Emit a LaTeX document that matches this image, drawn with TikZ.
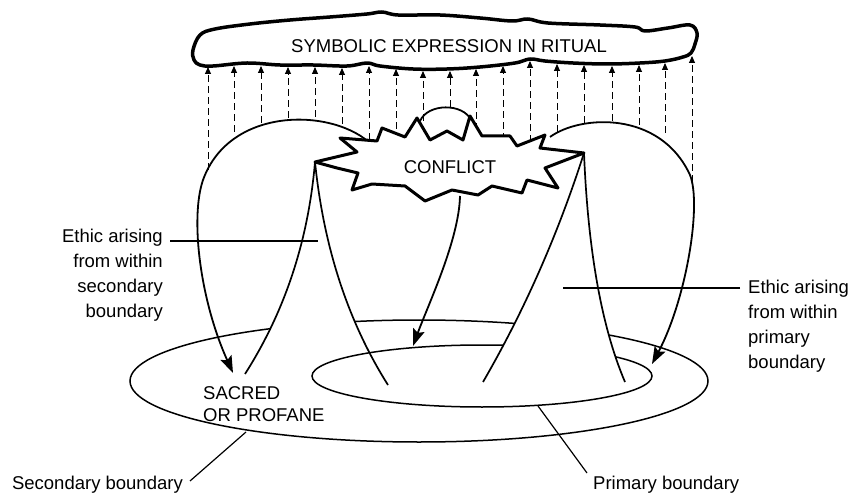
\documentclass[tikz,border=0pt]{standalone}
\usepackage{fontspec}
\setmainfont{Liberation Sans}
\usetikzlibrary{arrows.meta}
\begin{document}
\begin{tikzpicture}[x=1pt,y=-1pt,
  lbl/.style={font=\fontsize{18.5}{25}\selectfont, inner sep=0pt, text=black},
  ellipseline/.style={line width=1.5pt},
  coneline/.style={line width=1.7pt},
  bigarrow/.style={line width=1.8pt, -{Stealth[length=17pt,width=12pt,inset=3pt]}},
  ritarrow/.style={line width=0.9pt, dash pattern=on 7pt off 4pt, -{Triangle[length=7pt,width=6pt]}},
  leader/.style={line width=1.2pt},
  starline/.style={line width=3pt, line join=round, fill=white},
  cloudline/.style={line width=3.5pt, line join=round},
]
\useasboundingbox (0,0) rectangle (848,494);

% ---- boundaries (ellipses)
\coordinate (outerC) at (419,381);
\coordinate (innerC) at (482,376);
\draw[ellipseline] (outerC) ellipse [x radius=289pt, y radius=61pt];

% left cone
\coordinate (apexL) at (315,162);
\coordinate (lcL) at (245,374);
\coordinate (lcR) at (388,385);
\fill[white] (apexL) .. controls (308.3,240.7) and (285,311.3) .. (lcL) -- (lcR)
   .. controls (348,321.7) and (323.7,247.3) .. (apexL) -- cycle;
\draw[coneline] (apexL) .. controls (308.3,240.7) and (285,311.3) .. (lcL);
\draw[coneline] (apexL) .. controls (323.7,247.3) and (348,321.7) .. (lcR);

\draw[ellipseline] (innerC) ellipse [x radius=170pt, y radius=31pt];

% right cone
\coordinate (apexR) at (584,153);
\coordinate (rcL) at (483,382);
\coordinate (rcR) at (625,382);
\fill[white] (apexR) .. controls (558,234.3) and (524.3,310.7) .. (rcL) -- (rcR)
   .. controls (601.7,327.3) and (588,251) .. (apexR) -- cycle;
\draw[coneline] (apexR) .. controls (558,234.3) and (524.3,310.7) .. (rcL);
\draw[coneline] (apexR) .. controls (588,251) and (601.7,327.3) .. (rcR);

% ---- dashed arrows to ritual
\foreach \x/\yb/\yt in {208/170/67, 234/132/66, 261/123/66, 288/118/67, 315/117/67,
  342/124/68, 369/140/66, 396/140/69, 423/121/71, 450/107/71, 476/130/69, 503/140/66,
  530/142/61, 557/132/64, 584/123/65, 612/121/66, 639/125/65, 665/133/63, 692/182/56}
  \draw[ritarrow] (\x,\yb) -- (\x,\yt);

% ---- cloud
\draw[cloudline] plot[smooth cycle, tension=0.6] coordinates {
 (193,50) (200,35) (215,29) (250,24) (290,20) (330,17) (367,14) (382,12) (398,15)
 (440,15) (480,18) (512,21) (528,19) (548,23) (600,25) (635,27) (645,31) (668,28)
 (690,25) (697,33) (695,44) (691,53) (683,57) (665,61) (640,63) (607,64) (573,63)
 (545,61) (530,59) (515,63) (480,67) (447,69) (413,69) (380,66) (367,63) (347,66)
 (313,65) (280,65) (247,63) (213,66) (200,65) (194,60)};
\node[lbl] (ritual) at (449,46) {SYMBOLIC EXPRESSION IN RITUAL};

% ---- lobes and middle arrow
\coordinate (lobeLs) at (372,145);
\coordinate (lobeLe) at (233,373);
\draw[bigarrow] (lobeLs) .. controls (335,108) and (230,105) .. (203,180)
   .. controls (190,218) and (200,300) .. (lobeLe);
\coordinate (lobeRs) at (550,137);
\coordinate (lobeRe) at (652,364);
\draw[bigarrow] (lobeRs) .. controls (580,115) and (660,110) .. (690,175)
   .. controls (702,205) and (686,300) .. (lobeRe);
\coordinate (midS) at (460,196);
\coordinate (midE) at (413,346);
\draw[bigarrow] (midS) .. controls (459,240) and (428,305) .. (midE);

% loop above star
\coordinate (loopA) at (420,121);
\coordinate (loopB) at (471,120);
\draw[line width=1.8pt] (loopA) .. controls (428,103) and (463,103) .. (loopB);

% ---- star (conflict)
\draw[starline] (315,162) -- (357,152) -- (340,138) -- (377,141) -- (382,128)
 -- (405,137) -- (417,118) -- (430,140) -- (447,131) -- (463,140) -- (470,116)
 -- (482,136) -- (510,136) -- (517,146) -- (545,135) -- (540,148) -- (584,153)
 -- (545,168) -- (558,188) -- (527,180) -- (522,193) -- (492,186) -- (478,195)
 -- (452,190) -- (425,201) -- (405,186) -- (372,184) -- (352,190) -- (358,173)
 -- (337,168) -- cycle;
\node[lbl] (conflict) at (450,167) {CONFLICT};

% ---- labels and leaders
\node[lbl, align=right, anchor=east] (ethicL) at (163,275)
  {Ethic arising\\from within\\secondary\\boundary};
\coordinate (ethicLa) at (170,241);
\coordinate (ethicLb) at (318,241);
\draw[leader] (ethicLa) -- (ethicLb);

\node[lbl, align=left, anchor=west] (ethicR) at (748,326)
  {Ethic arising\\from within\\primary\\boundary};
\coordinate (ethicRa) at (740,288);
\coordinate (ethicRb) at (563,288);
\draw[leader] (ethicRa) -- (ethicRb);

\node[lbl, font=\fontsize{18.5}{22}\selectfont, align=left, anchor=west] (sacred) at (203,404)
  {SACRED\\OR PROFANE};

\node[lbl, anchor=base east] (secb) at (183,489) {Secondary boundary};
\coordinate (secA) at (190,481);
\coordinate (secB) at (246,432);
\draw[leader] (secA) -- (secB);

\node[lbl, anchor=base west] (primb) at (593,489) {Primary boundary};
\coordinate (primA) at (587,473);
\coordinate (primB) at (538,406);
\draw[leader] (primA) -- (primB);
\end{tikzpicture}
\end{document}
